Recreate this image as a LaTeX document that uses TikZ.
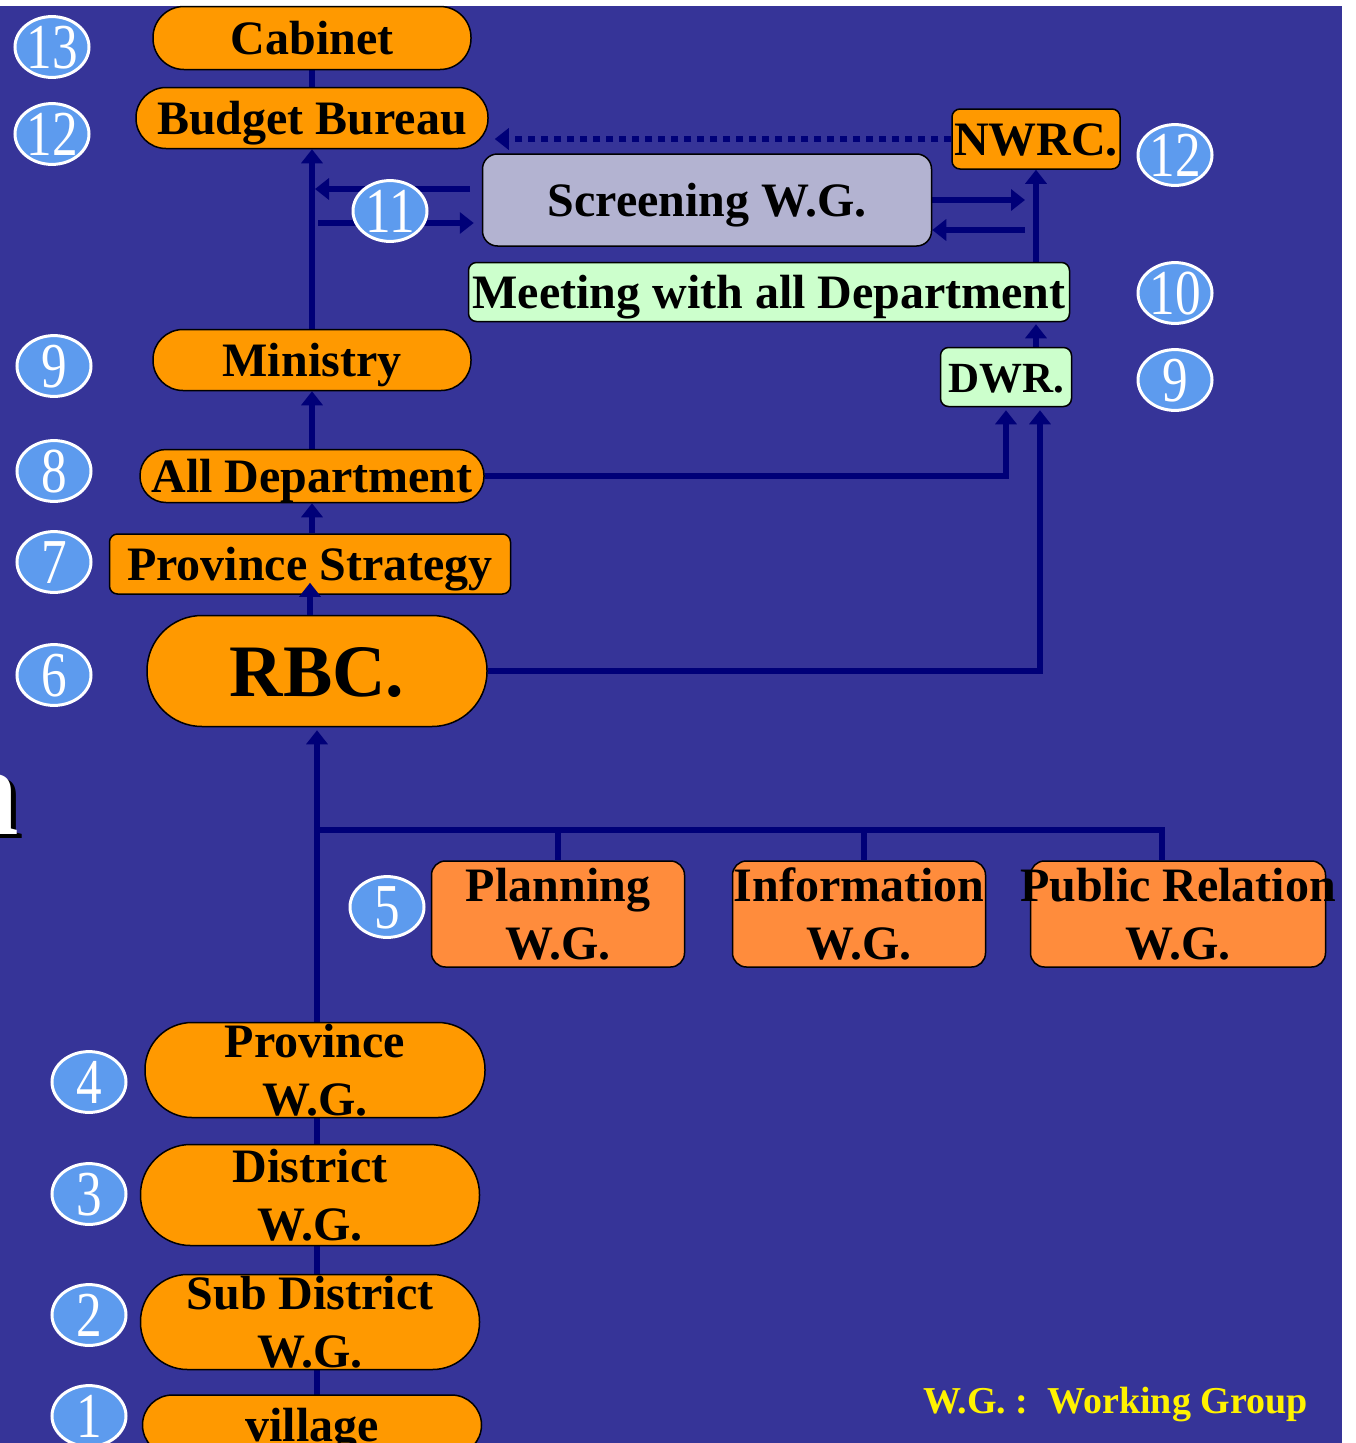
\documentclass[tikz,border=0pt]{standalone}
\usepackage{fontspec}
\setmainfont{Liberation Serif}
\usepackage{graphicx}
\usetikzlibrary{arrows.meta,shapes.geometric}

\definecolor{bgblue}{RGB}{54,52,152}
\definecolor{arrowblue}{RGB}{0,0,120}
\definecolor{gold}{RGB}{255,153,0}
\definecolor{wgorange}{RGB}{255,140,60}
\definecolor{lavender}{RGB}{179,179,209}
\definecolor{mint}{RGB}{204,255,204}
\definecolor{sky}{RGB}{93,155,238}

\pgfdeclarelayer{back}
\pgfdeclarelayer{lines}
\pgfsetlayers{back,lines,main}

\newcommand\narrownum[1]{\scalebox{0.8}[1]{#1}}

\begin{document}
\begin{tikzpicture}[x=1pt, y=-1pt,
  every node/.style = {inner sep=0pt, align=center},
  box/.style = {draw, line width=1.5pt, font=\bfseries\fontsize{48}{58}\selectfont},
  pill/.style = {box, fill=gold, rounded corners=#1},
  pill/.default = 30pt,
  tag/.style = {box, rounded corners=8pt},
  wgbox/.style = {box, fill=wgorange, rounded corners=14pt,
    minimum width=253pt, minimum height=106pt},
  one/.style = {text height=33pt, text depth=0pt},
  num/.style = {ellipse, draw=white, line width=3pt, fill=sky, text=white,
    minimum width=74pt, minimum height=60pt, text height=43pt, text depth=0pt,
    font=\fontsize{64}{64}\selectfont},
  link/.style = {draw=arrowblue, line width=6pt},
  arrow/.style = {link, -{Triangle[width=21pt,length=14pt]}}]
  \useasboundingbox (0,0) rectangle (1356,1443);
  \begin{pgfonlayer}{back}
    \fill[bgblue] (0,6) rectangle (1342,1443);
  \end{pgfonlayer}

  \node[pill=31pt, one, minimum width=318pt, minimum height=63pt] (cab) at (312,38) {Cabinet};
  \node[pill, one, minimum width=352pt, minimum height=61pt] (bud) at (312,118) {Budget Bureau};
  \node[tag, one, fill=gold, minimum width=168pt, minimum height=60pt] (nwrc) at (1036,139) {NWRC.};
  \node[tag, one, fill=lavender, rounded corners=15pt, minimum width=449pt, minimum height=92pt] (scr) at (707,200) {Screening W.G.};
  \node[tag, one, fill=mint, minimum width=601pt, minimum height=59pt] (meet) at (769,292) {Meeting with all Department};
  \node[pill, one, minimum width=318pt, minimum height=61pt] (min) at (312,360) {Ministry};
  \node[tag, one, fill=mint, minimum width=131pt, minimum height=59pt,
    text height=30pt, font=\bfseries\fontsize{43}{43}\selectfont] (dwr) at (1006,377) {DWR.};
  \node[pill=26pt, one, minimum width=344pt, minimum height=53pt] (alld) at (312,476) {All Department};
  \node[tag, one, fill=gold, minimum width=401pt, minimum height=60pt] (pstr) at (310,564) {Province Strategy};
  \node[pill=55pt, minimum width=340pt, minimum height=111pt, text height=50pt, text depth=0pt,
    font=\bfseries\fontsize{74}{74}\selectfont] (rbc) at (317,671) {RBC.};
  \node[wgbox] (plan) at (558,914) {Planning\\W.G.};
  \node[wgbox] (info) at (859,914) {Information\\W.G.};
  \node[wgbox, minimum width=295pt] (pub) at (1178,914) {\makebox[200pt]{Public Relation}\\W.G.};
  \node[pill=47pt, minimum width=340pt, minimum height=95pt] (pwg) at (315,1070) {Province\\W.G.};
  \node[pill=50pt, minimum width=339pt, minimum height=101pt] (dwg) at (310,1195) {District\\W.G.};
  \node[pill=47pt, minimum width=339pt, minimum height=95pt] (swg) at (310,1322) {Sub District\\W.G.};
  \node[pill, one, minimum width=339pt, minimum height=60pt] (vil) at (312,1425) {village};

  \coordinate (b1) at (470,189);
  \coordinate (b2) at (318,223);
  \coordinate (s1) at (1025,200);
  \coordinate (s2) at (1025,230);
  \coordinate (br) at (316,830);

  \begin{pgfonlayer}{lines}
    \draw[link] (bud) -- (cab);
    \draw[arrow] (min.north) -- (bud.south);
    \draw[arrow, dash pattern=on 7pt off 6pt, shorten >=6pt] (nwrc.west) -- (nwrc.west -| bud.east);
    \draw[arrow, shorten >=3pt] (b1) -- (b1 -| min.north);
    \draw[arrow, shorten >=8pt] (b2) -- (b2 -| scr.west);
    \draw[arrow] (scr.east |- s1) -- (s1);
    \draw[arrow] (s2) -- (s2 -| scr.east);
    \draw[arrow] (nwrc.south |- meet.north) -- (nwrc.south);
    \draw[arrow, shorten >=2pt] (nwrc.south |- dwr.north) -- (nwrc.south |- meet.south);
    \draw[arrow] (alld.north) -- (min.south);
    \draw[arrow, shorten >=3pt] (alld.east) -| (dwr.south);
    \draw[arrow, shorten >=3pt] (rbc.east) -| ([xshift=34pt]dwr.south);
    \draw[arrow] (pstr.north -| alld.south) -- (alld.south);
    \draw[arrow, shorten >=3pt] (vil.center -| rbc.south) -- (rbc.south);
    \draw[link] (br) -| (plan.north);
    \draw[link] (br) -| ([xshift=5pt]info.north);
    \draw[link] (br) -| ([xshift=-16pt]pub.north);
  \end{pgfonlayer}
  \draw[arrow] (pstr.south |- rbc.north) -- ([yshift=12pt]pstr.south);

  \node[num] (n13) at (52,47) {\narrownum{13}};
  \node[num] (n12a) at (52,134) {\narrownum{12}};
  \node[num] (n12b) at (1175,155) {\narrownum{12}};
  \node[num] (n11) at (390,211) {\narrownum{11}};
  \node[num] (n10) at (1175,293) {\narrownum{10}};
  \node[num] (n9a) at (54,366) {\narrownum{9}};
  \node[num] (n9b) at (1175,380) {\narrownum{9}};
  \node[num] (n8) at (54,471) {\narrownum{8}};
  \node[num] (n7) at (54,562) {\narrownum{7}};
  \node[num] (n6) at (54,675) {\narrownum{6}};
  \node[num] (n5) at (387,907) {\narrownum{5}};
  \node[num] (n4) at (89,1082) {\narrownum{4}};
  \node[num] (n3) at (89,1194) {\narrownum{3}};
  \node[num] (n2) at (89,1315) {\narrownum{2}};
  \node[num] (n1) at (89,1416) {\narrownum{1}};

  \node[anchor=base east, font=\bfseries\fontsize{127}{127}\selectfont] (titlesh) at (24,838) {n};
  \node[anchor=base east, text=white, font=\bfseries\fontsize{127}{127}\selectfont] (title) at (19,834) {n};
  \node[anchor=base west, text=yellow, font=\bfseries\fontsize{38}{38}\selectfont] (key) at (923,1413) {W.G. :\ \ Working Group};
\end{tikzpicture}
\end{document}
